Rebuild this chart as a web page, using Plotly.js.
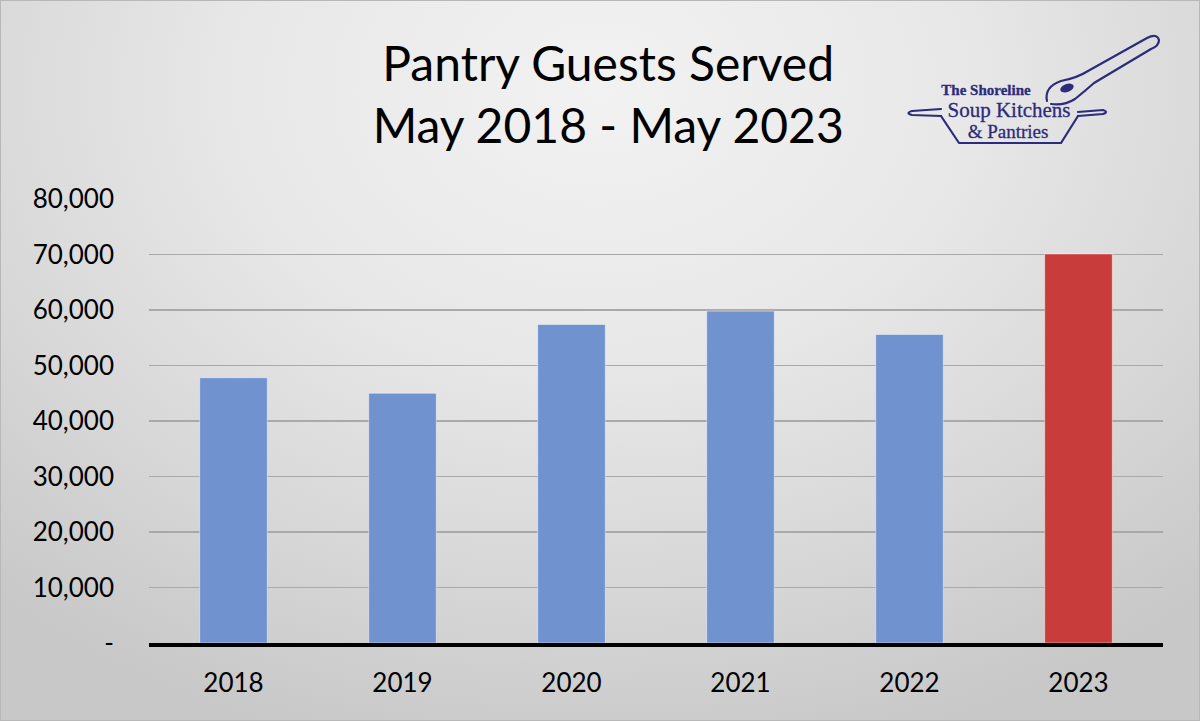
<!DOCTYPE html>
<html>
<head>
<meta charset="utf-8">
<script src="https://cdn.plot.ly/plotly-3.0.1.min.js"></script>
<style>
  html, body { margin: 0; padding: 0; }
  #wrap {
    position: relative; width: 1200px; height: 721px; box-sizing: border-box;
    border: 1px solid #b8b8b8;
    background: radial-gradient(ellipse 75% 95% at 50% 12%, #f2f2f2 0%, #e8e8e8 40%, #d6d6d6 75%, #c8c8c8 100%);
    overflow: hidden;
  }
  #chart { position: absolute; left: 0; top: 0; }
  #logo { position: absolute; left: 0; top: 0; pointer-events: none; }
</style>
</head>
<body>
<div id="wrap">
  <div id="chart"></div>
  <svg id="logo" width="1200" height="721" xmlns="http://www.w3.org/2000/svg">
    <g fill="none" stroke="#2d2b7c" stroke-width="2.2" stroke-linejoin="round" stroke-linecap="round">
      <path d="M940,108 L911,110 Q904,112 911,114 L940,115"/>
      <path d="M940,115 L958,142 L1060,142 L1077,115"/>
      <path d="M1077,115 L1102,113 Q1108,111 1102,109 L1077,111"/>
      <path d="M1046,100 Q1043,86 1060,80 Q1076,77 1087,70 L1146,37 Q1156,32 1158,39 Q1158,45 1150,48 L1093,82 Q1084,90 1074,98 Q1063,105 1050,103"/>
    </g>
    <ellipse cx="1066" cy="87" rx="7" ry="4" fill="#2d2b7c" transform="rotate(-20 1066 87)"/>
    <g fill="#2d2b7c" stroke="#2d2b7c" stroke-width="0.3" font-family="'Liberation Serif', 'DejaVu Serif', serif" text-anchor="middle">
      <text x="985" y="94" font-size="15" font-weight="bold">The Shoreline</text>
      <text x="1008" y="116" font-size="21">Soup Kitchens</text>
      <text x="1007" y="137" font-size="19">&amp; Pantries</text>
    </g>
  </svg>
</div>
<script>
const years = ['2018', '2019', '2020', '2021', '2022', '2023'];
const guests = [47800, 45000, 57400, 59800, 55600, 70100];
const barColors = ['#7093d0', '#7093d0', '#7093d0', '#7093d0', '#7093d0', '#c83c3c'];
const tickVals = [0, 10000, 20000, 30000, 40000, 50000, 60000, 70000, 80000];
const tickText = ['-', '10,000', '20,000', '30,000', '40,000', '50,000', '60,000', '70,000', '80,000'];
const titleText = 'Pantry Guests Served<br>May 2018 - May 2023';

const data = [{
  type: 'bar',
  x: years,
  y: guests,
  marker: { color: barColors, line: { color: 'rgba(255,255,255,0.45)', width: 1 } },
  hoverinfo: 'x+y'
}];

const layout = {
  width: 1200, height: 721,
  paper_bgcolor: 'rgba(0,0,0,0)',
  plot_bgcolor: 'rgba(0,0,0,0)',
  margin: { l: 148, r: 38, t: 198, b: 79, pad: 0 },
  bargap: 0.6,
  showlegend: false,
  font: { family: 'Lato, "Open Sans", sans-serif', color: '#000' },
  title: {
    text: titleText,
    font: { family: 'Lato, "Open Sans", sans-serif', size: 48, color: '#000' },
    x: 0.506, xanchor: 'center',
    y: 0.889, yanchor: 'middle', yref: 'container'
  },
  xaxis: {
    type: 'category',
    showgrid: false,
    zeroline: false,
    showline: true, linecolor: '#000', linewidth: 4,
    ticks: '', ticklabelstandoff: 14,
    tickfont: { size: 26, color: '#000' }
  },
  yaxis: {
    range: [0, 80000],
    tickvals: tickVals,
    ticktext: tickText,
    showgrid: true, gridcolor: '#a9a9a9', gridwidth: 1.5,
    zeroline: false,
    showline: false,
    ticks: '', ticklabelstandoff: 34,
    tickfont: { size: 26, color: '#000' }
  }
};

Plotly.newPlot('chart', data, layout, { displayModeBar: false, staticPlot: true });
</script>
</body>
</html>
